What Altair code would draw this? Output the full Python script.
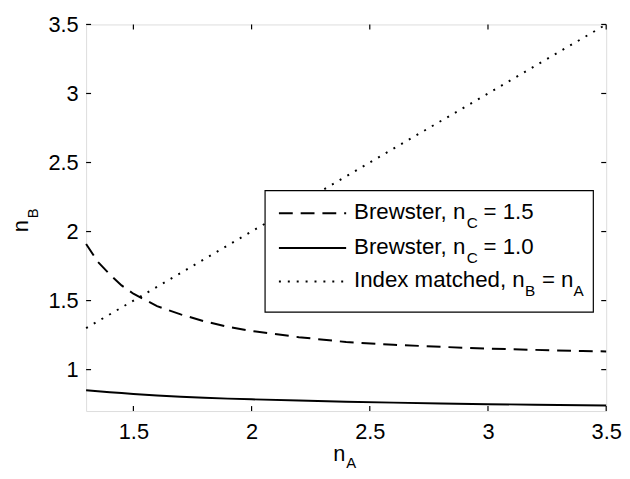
import altair as alt
import pandas as pd

# ---- data ----
n_a = [1.3, 1.35, 1.4, 1.45, 1.5, 1.6, 1.7, 1.8, 1.9, 2.0, 2.2, 2.4, 2.6, 2.8, 3.0, 3.2, 3.4, 3.5]
brewster_15 = [1.91, 1.78, 1.69, 1.61, 1.55, 1.46, 1.40, 1.35, 1.31, 1.28, 1.235, 1.20,
               1.18, 1.165, 1.152, 1.143, 1.135, 1.132]
brewster_10 = [0.85, 0.843, 0.836, 0.83, 0.824, 0.812, 0.803, 0.796, 0.79, 0.785, 0.776,
               0.768, 0.761, 0.755, 0.75, 0.746, 0.742, 0.74]
matched_x = [1.3, 3.5]
matched_y = [1.3, 3.5]
x_ticks = [1.5, 2, 2.5, 3, 3.5]
y_ticks = [1, 1.5, 2, 2.5, 3, 3.5]
legend_rows = [
    ["Brewster, n", "C", "= 1.5"],
    ["Brewster, n", "C", "= 1.0"],
    ["Index matched, n", "B", "= n", "A"],
]

W, H = 526, 391
FONT = "Liberation Sans"

xs = alt.Scale(domain=[1.3, 3.5], nice=False, zero=False)
ys = alt.Scale(domain=[0.7, 3.5], nice=False, zero=False)

df15 = pd.DataFrame({"x": n_a, "y": brewster_15})
df10 = pd.DataFrame({"x": n_a, "y": brewster_10})
dfm = pd.DataFrame({"x": matched_x, "y": matched_y})

xaxis = alt.Axis(values=x_ticks, format="~g", grid=False, ticks=False, domain=False,
                 labelFont=FONT, labelFontSize=22, labelColor="black", labelPadding=11,
                 title=None, labelFlush=False)
yaxis = alt.Axis(values=y_ticks, format="~g", grid=False, ticks=False, domain=False,
                 labelFont=FONT, labelFontSize=22, labelColor="black", labelPadding=8,
                 title=None, labelFlush=False)

base15 = alt.Chart(df15).mark_line(color="black", strokeWidth=2, strokeDash=[14, 8]).encode(
    x=alt.X("x:Q", scale=xs, axis=xaxis), y=alt.Y("y:Q", scale=ys, axis=yaxis))
line10 = alt.Chart(df10).mark_line(color="black", strokeWidth=2).encode(
    x=alt.X("x:Q", scale=xs), y=alt.Y("y:Q", scale=ys))
linem = alt.Chart(dfm).mark_line(color="black", strokeWidth=2, strokeDash=[2, 7]).encode(
    x=alt.X("x:Q", scale=xs), y=alt.Y("y:Q", scale=ys))

# inside tick marks on all four sides
dxt = pd.DataFrame({"v": x_ticks})
dyt = pd.DataFrame({"v": y_ticks})
TL = 5
ticks = [
    alt.Chart(dxt).mark_rule(color="black", strokeWidth=1.2).encode(
        x=alt.X("v:Q", scale=xs), y=alt.value(H), y2=alt.value(H - TL)),
    alt.Chart(dxt).mark_rule(color="black", strokeWidth=1.2).encode(
        x=alt.X("v:Q", scale=xs), y=alt.value(0), y2=alt.value(TL)),
    alt.Chart(dyt).mark_rule(color="black", strokeWidth=1.2).encode(
        y=alt.Y("v:Q", scale=ys), x=alt.value(0), x2=alt.value(TL)),
    alt.Chart(dyt).mark_rule(color="black", strokeWidth=1.2).encode(
        y=alt.Y("v:Q", scale=ys), x=alt.value(W), x2=alt.value(W - TL)),
]


def txt(s, x, y, size, angle=0, align="left"):
    return alt.Chart(pd.DataFrame({"t": [s]})).mark_text(
        font=FONT, fontSize=size, color="black", align=align, baseline="alphabetic",
        angle=angle).encode(text="t:N", x=alt.value(x), y=alt.value(y))


# axis titles with subscripts
titles = [
    txt("n", -59, 204, 22, angle=270, align="center"),
    txt("B", -49, 191, 15, angle=270, align="center"),
    txt("n", 256, 442, 22, align="center"),
    txt("A", 268, 449, 15, align="center"),
]

# legend box
box = alt.Chart(pd.DataFrame({"a": [0]})).mark_rect(
    fill="white", fillOpacity=1, opacity=1, stroke="black", strokeWidth=1.2).encode(
    x=alt.value(181), x2=alt.value(513), y=alt.value(168), y2=alt.value(291))

sym_y = [191, 226, 260]
base_y = [197, 232, 266]
dashes = [[14, 8], [1, 0], [2, 7]]
FS = 22.5
legend = [box]
for i in range(3):
    legend.append(alt.Chart(pd.DataFrame({"a": [0]})).mark_rule(
        color="black", strokeWidth=2, strokeDash=dashes[i]).encode(
        x=alt.value(195), x2=alt.value(263), y=alt.value(sym_y[i])))
for i in range(2):
    r = legend_rows[i]
    legend += [txt(r[0], 271, base_y[i], FS), txt(r[1], 385, base_y[i] + 9, 15.5),
               txt(r[2], 402, base_y[i], FS)]
r = legend_rows[2]
legend += [txt(r[0], 271, base_y[2], FS), txt(r[1], 444, base_y[2] + 9, 15.5),
           txt(r[2], 461, base_y[2], FS), txt(r[3], 493, base_y[2] + 9, 15.5)]

chart = alt.layer(base15, line10, linem, *ticks, *titles, *legend).properties(
    width=W, height=H,
    autosize=alt.AutoSizeParams(type="none"),
    padding={"left": 79, "top": 14, "right": 16, "bottom": 58},
).configure_view(stroke="black", strokeWidth=1.5).configure(background="white")

chart.save("out.html", embed_options={"renderer": "svg", "actions": False})
